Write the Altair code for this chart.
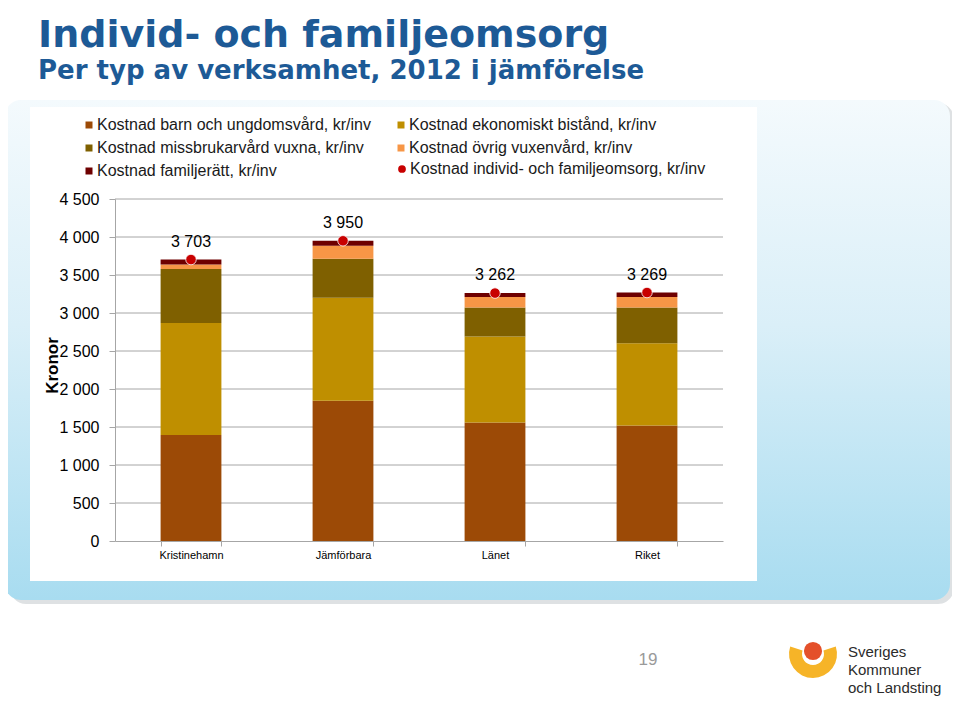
import altair as alt
import pandas as pd

# ---- data ----
categories = ["Kristinehamn", "Jämförbara", "Länet", "Riket"]
series_names = [
    "Kostnad barn och ungdomsvård, kr/inv",
    "Kostnad ekonomiskt bistånd, kr/inv",
    "Kostnad missbrukarvård vuxna, kr/inv",
    "Kostnad övrig vuxenvård, kr/inv",
    "Kostnad familjerätt, kr/inv",
]
barn = [1396, 1844, 1558, 1519]
ekonomiskt = [1471, 1356, 1133, 1084]
missbruk = [711, 514, 382, 470]
ovrig = [61, 171, 136, 136]
familjeratt = [64, 65, 53, 60]
totals = [3703, 3950, 3262, 3269]
total_name = "Kostnad individ- och familjeomsorg, kr/inv"
y_ticks = [0, 500, 1000, 1500, 2000, 2500, 3000, 3500, 4000, 4500]

series_colors = ["#9C4A06", "#BF8F00", "#7F6000", "#F79646", "#6E0000"]
dot_color = "#C80000"
title_color = "#1D5A96"
axis_gray = "#A6A6A6"

# legend lays out column by column: order so rows read like the reference
legend_order = [series_names[i] for i in (0, 2, 4, 1, 3)]
legend_colors = [series_colors[i] for i in (0, 2, 4, 1, 3)]

# ---- tables ----
rows = []
for si, (name, vals) in enumerate(zip(series_names, [barn, ekonomiskt, missbruk, ovrig, familjeratt])):
    for c, v in zip(categories, vals):
        rows.append({"kategori": c, "serie": name, "varde": v, "ordning": si})
bars_df = pd.DataFrame(rows)
tot_df = pd.DataFrame({"kategori": categories, "total": totals, "serie": [total_name] * len(categories)})
grid_df = pd.DataFrame({"tick": y_ticks[1:]})
one = pd.DataFrame({"a": [0]})

yscale = alt.Scale(domain=[0, 4500], nice=False)
yaxis = alt.Axis(
    title="Kronor", values=y_ticks,
    labelExpr="replace(format(datum.value, ','), ',', ' ')",
    labelFontSize=16, labelColor="#000000", labelPadding=10,
    tickSize=6, tickColor=axis_gray, domainColor=axis_gray, grid=False,
    titleFontSize=17, titleFontWeight="bold", titleColor="#000000",
    titleX=-58, titleY=166, titleAngle=270, titleBaseline="alphabetic", titleAlign="center",
    zindex=1,
)
xscale = alt.Scale(domain=categories, paddingInner=0.6, paddingOuter=0.3)
xaxis = alt.Axis(
    title=None, labelAngle=0, labelFontSize=11, labelColor="#000000", labelPadding=3,
    tickBand="extent", tickSize=5, tickColor=axis_gray, domainColor=axis_gray,
    grid=False, zindex=1,
)

# ---- decorative panels ----
shadow = alt.Chart(one).mark_rect(fill="#C8CDD0", opacity=0.6, cornerRadius=16).encode(
    x=alt.value(-105), x2=alt.value(839), y=alt.value(-96), y2=alt.value(405)
)
panel = alt.Chart(one).mark_rect(
    cornerRadius=16,
    fill=alt.Gradient(
        gradient="linear",
        stops=[
            alt.GradientStop(offset=0, color="#F4FAFD"),
            alt.GradientStop(offset=0.45, color="#DAEFF8"),
            alt.GradientStop(offset=1, color="#A8DCF0"),
        ],
        x1=0, x2=0, y1=0, y2=1,
    ),
).encode(x=alt.value(-110), x2=alt.value(835), y=alt.value(-99), y2=alt.value(401))
white = alt.Chart(one).mark_rect(fill="#FFFFFF").encode(
    x=alt.value(-85), x2=alt.value(642), y=alt.value(-92), y2=alt.value(382)
)

grid = alt.Chart(grid_df).mark_rule(color=axis_gray, strokeWidth=1).encode(
    y=alt.Y("tick:Q", scale=yscale, axis=yaxis)
)

bars = alt.Chart(bars_df).mark_bar().encode(
    x=alt.X("kategori:N", sort=categories, scale=xscale, axis=xaxis),
    y=alt.Y("varde:Q", stack="zero", scale=yscale, axis=yaxis),
    color=alt.Color(
        "serie:N",
        scale=alt.Scale(domain=legend_order, range=legend_colors),
        legend=alt.Legend(
            title=None, orient="none", legendX=-34, legendY=-82, columns=2,
            columnPadding=22, rowPadding=7, symbolType="square", symbolSize=49,
            symbolStrokeWidth=0, labelFontSize=16, labelColor="#1A1A1A",
            labelLimit=400, labelOffset=0, padding=0,
        ),
    ),
    order=alt.Order("ordning:Q", sort="ascending"),
)

points = alt.Chart(tot_df).mark_point(filled=True, size=110, opacity=1, stroke="#FFFFFF", strokeWidth=0.8).encode(
    x=alt.X("kategori:N", sort=categories, scale=xscale, axis=xaxis),
    y=alt.Y("total:Q", scale=yscale, axis=yaxis),
    color=alt.value(dot_color),
    shape=alt.Shape(
        "serie:N",
        scale=alt.Scale(domain=[total_name], range=["circle"]),
        legend=alt.Legend(
            title=None, orient="none", legendX=279, legendY=-38,
            symbolFillColor=dot_color, symbolStrokeWidth=0, symbolSize=60,
            labelFontSize=16, labelColor="#1A1A1A", labelOffset=0, labelLimit=400, padding=0,
        ),
    ),
)

labels = alt.Chart(tot_df).transform_calculate(
    etikett="replace(format(datum.total, ','), ',', ' ')"
).mark_text(fontSize=16, color="#000000", dy=-18).encode(
    x=alt.X("kategori:N", sort=categories, scale=xscale, axis=xaxis),
    y=alt.Y("total:Q", scale=yscale, axis=yaxis),
    text="etikett:N",
)

page_no = alt.Chart(one).mark_text(fontSize=17, color="#9A9A9A", align="center", baseline="middle").encode(
    x=alt.value(533), y=alt.value(461), text=alt.value("19")
)
logo_flame = alt.Chart(one).mark_arc(
    color="#F6B428", radius=24, radius2=11, theta=1.25, theta2=5.03
).encode(x=alt.value(698), y=alt.value(455))
logo_dot = alt.Chart(one).mark_point(filled=True, size=330, color="#E4502A", opacity=1).encode(
    x=alt.value(698), y=alt.value(452)
)
logo_text = alt.Chart(one).mark_text(
    fontSize=15, color="#2B2B2B", align="left", baseline="middle", lineBreak="\n", lineHeight=18, fontWeight=500
).encode(x=alt.value(733), y=alt.value(453), text=alt.value("Sveriges\nKommuner\noch Landsting"))

chart = alt.layer(
    shadow, panel, white, grid, bars, points, labels, page_no, logo_flame, logo_dot, logo_text
).properties(
    width=608, height=342,
    autosize=alt.AutoSizeParams(type="none"),
    padding={"left": 107, "top": 191, "right": 229, "bottom": 157},
    background="#FFFFFF",
    title=alt.Title(
        text="Individ- och familjeomsorg",
        subtitle="Per typ av verksamhet, 2012 i jämförelse",
        anchor="start", frame="group", dx=-77, offset=16,
        fontSize=38, fontWeight="bold", color=title_color,
        subtitleFontSize=26, subtitleFontWeight="bold", subtitleColor=title_color,
        subtitlePadding=3, font="DejaVu Sans", subtitleFont="DejaVu Sans",
    ),
).configure(font="Liberation Sans").configure_view(stroke=None)

chart.save("out.html", embed_options={"renderer": "svg", "actions": False})
